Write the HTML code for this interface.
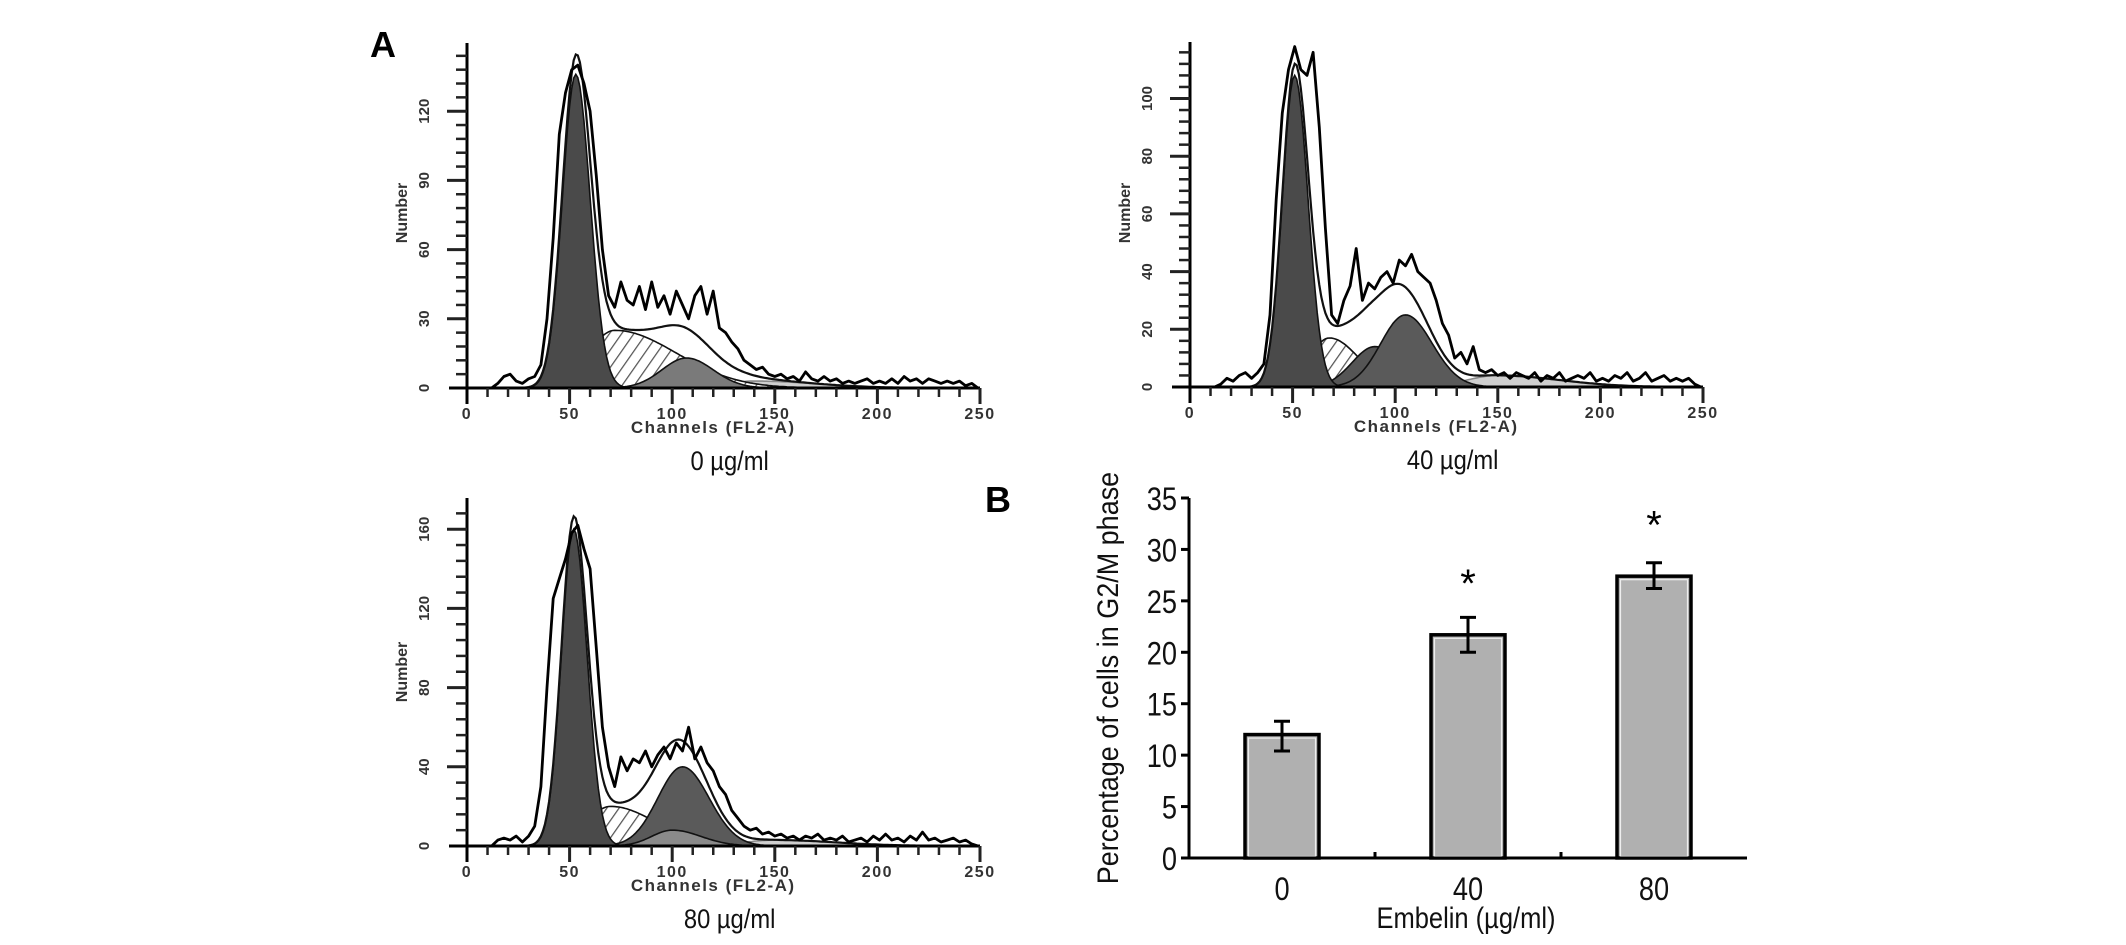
<!DOCTYPE html>
<html><head><meta charset="utf-8">
<style>
html,body{margin:0;padding:0;background:#fff;}
svg{display:block;}
text{font-family:"Liberation Sans",Arial,sans-serif;}
</style></head>
<body>
<svg id="fig" width="2126" height="945" viewBox="0 0 2126 945" xmlns="http://www.w3.org/2000/svg">
<defs>
<pattern id="hatch" patternUnits="userSpaceOnUse" width="10" height="10" patternTransform="rotate(35)">
<rect width="10" height="10" fill="#fff"/><line x1="0" y1="0" x2="0" y2="10" stroke="#555" stroke-width="2.5"/>
</pattern>
</defs>
<text x="370" y="57" font-family="Liberation Serif" font-weight="bold" font-size="36">A</text>
<text x="985" y="512" font-family="Liberation Serif" font-weight="bold" font-size="36">B</text>
<g id="h1"></g><g id="h2"></g><g id="h3"></g><g id="bar"></g>
</svg>
<script>
// ---------- histogram data (channels 12..249 step 3) ----------
const channelStart = 12, channelStep = 3;
const raw0 = [0,2,5,6,3,2,4,5,10,30, 65,110,128,138,140,132,120,92,60,40, 35,46,38,36,44,34,46,35,40,32, 42,36,30,40,44,32,42,26,24,20, 17,12,10,8,9,6,5,6,4,5, 3,7,4,3,5,3,4,2,3,2, 3,4,2,3,2,4,2,5,3,4, 2,4,3,2,3,2,3,1,2,0];
const raw40 = [0,1,3,2,4,5,3,5,8,25, 65,95,110,118,110,108,116,90,55,25, 22,30,35,48,30,36,34,38,40,36, 44,42,46,40,38,36,30,22,18,10, 12,8,14,6,5,6,4,5,3,5, 4,3,5,2,4,3,5,2,3,4, 3,5,2,3,2,4,3,5,2,3, 5,2,3,4,2,3,2,3,1,0];
const raw80 = [0,3,4,3,5,2,5,10,30,80, 125,135,145,158,162,150,140,100,60,40, 30,45,38,44,42,48,40,46,50,44, 52,48,60,44,50,42,38,30,26,18, 14,10,8,9,6,7,5,6,4,5, 3,5,4,6,3,4,3,5,2,3, 4,2,5,3,6,3,4,2,5,3, 7,3,4,2,3,4,2,3,1,0];
// fitted components: [mean, height, sdLeft, sdRight]
const g1_0 = [53,136,6.5,7], s_0 = [72,25,13,30], g2_0 = [107,13,12,13], tail_0 = [140,3,15,30];
const g1_40 = [51,108,6,6.5], s_40 = [68,17,10,14], m_40 = [90,14,11,16], g2_40 = [105,25,12,13], tail_40 = [150,4,15,30];
const g1_80 = [52,160,6,6.5], s_80 = [70,20,12,22], g2_80 = [105,40,12,13], l_80 = [100,8,10,14], tail_80 = [150,3,15,30];
const yTicks0 = [0,30,60,90,120], yTicks40 = [0,20,40,60,80,100], yTicks80 = [0,40,80,120,160];
const xTicks = [0,50,100,150,200,250];
// ---------- bar chart data ----------
const doses = ["0","40","80"];
const pct = [12.0,21.7,27.4];
const errHi = [13.3,23.4,28.7];
const errLo = [10.4,20.0,26.2];
const sig = [false,true,true];
const sigY = [0,27.5,33.2];
const barTicks = [0,5,10,15,20,25,30,35];

const NS="http://www.w3.org/2000/svg";
function mk(parent,tag,attrs){const e=document.createElementNS(NS,tag);for(const k in attrs)e.setAttribute(k,attrs[k]);parent.appendChild(e);return e;}
function comp(p,x){const sd=x<p[0]?p[2]:p[3];return p[1]*Math.exp(-0.5*Math.pow((x-p[0])/sd,2));}

function drawHist(gid,cfg){
  const g=document.getElementById(gid);
  const X=v=>cfg.x0+(v/250)*(cfg.x1-cfg.x0);
  const Y=v=>cfg.y0-v*cfg.ppu;
  const fills=cfg.comps;
  fills.forEach(c=>{
    let d="M"+X(10)+","+Y(0);
    for(let x=10;x<=240;x+=1){d+=" L"+X(x).toFixed(1)+","+Y(comp(c.p,x)).toFixed(1);}
    d+=" L"+X(240)+","+Y(0)+" Z";
    const e=mk(g,"path",{d:d,fill:c.fill,stroke:c.stroke||"#111","stroke-width":1.6});
    
    
  });
  let d="";
  for(let x=10;x<=245;x+=1){let s=0;fills.forEach(c=>s+=comp(c.p,x));d+=(d?" L":"M")+X(x).toFixed(1)+","+Y(s).toFixed(1);}
  const env=mk(g,"path",{d:d,fill:"none",stroke:"#111","stroke-width":2.2});
  
  
  let r="";
  cfg.raw.forEach((v,i)=>{const ch=channelStart+i*channelStep;r+=(r?" L":"M")+X(ch).toFixed(1)+","+Y(v).toFixed(1);});
  const rl=mk(g,"path",{d:r,fill:"none",stroke:"#000","stroke-width":2.8,"stroke-linejoin":"round"});
  
  
  const ax=mk(g,"line",{x1:cfg.x0,y1:cfg.top,x2:cfg.x0,y2:cfg.y0+16,stroke:"#000","stroke-width":3});
  
  
  const axx=mk(g,"line",{x1:cfg.x0-18,y1:cfg.y0,x2:cfg.x1,y2:cfg.y0,stroke:"#000","stroke-width":3});
  
  
  for(let v=cfg.minor;Y(v)>=cfg.top+4;v+=cfg.minor){
    const major=cfg.yTicks.indexOf(v)>=0;
    mk(g,"line",{x1:cfg.x0-(major?20:11),y1:Y(v),x2:cfg.x0,y2:Y(v),stroke:"#222","stroke-width":major?3:2.5});
  }
  cfg.yTicks.forEach(v=>{
    const t=mk(g,"text",{x:0,y:0,transform:`translate(${cfg.x0-38},${Y(v)}) rotate(-90)`,"text-anchor":"middle","font-size":15,fill:"#333","font-weight":"bold"});
    t.textContent=v;
    
    
  });
  for(let v=10;v<=250;v+=10){
    const major=v%50===0;
    mk(g,"line",{x1:X(v),y1:cfg.y0,x2:X(v),y2:cfg.y0+(major?16:9),stroke:"#222","stroke-width":major?3:2.5});
  }
  xTicks.forEach(v=>{
    const t=mk(g,"text",{x:X(v),y:cfg.y0+31,"text-anchor":"middle","font-size":16,fill:"#333","letter-spacing":"1.5","font-weight":"bold"});
    t.textContent=v;
    
    
  });
  const xt=mk(g,"text",{x:X(120),y:cfg.y0+45,"text-anchor":"middle","font-size":17,fill:"#333","letter-spacing":"1.5","font-weight":"bold"});
  xt.textContent="Channels (FL2-A)";
  
  
  const yt=mk(g,"text",{x:0,y:0,transform:`translate(${cfg.x0-60},${cfg.nameY}) rotate(-90)`,"text-anchor":"middle","font-size":16,fill:"#333","font-weight":"bold"});
  yt.textContent="Number";
  
  
  const tt=mk(g,"text",{x:X(128),y:cfg.y0+82,"text-anchor":"middle","font-size":27,fill:"#111",transform:`translate(${X(128)*0.12},0) scale(0.88,1)`});
  tt.textContent=cfg.title;
  
  
}

drawHist("h1",{x0:467,x1:980,y0:388,top:43,ppu:69.2/30,minor:6,yTicks:yTicks0,raw:raw0,nameY:213,title:"0 µg/ml",
  comps:[{p:tail_0,fill:"#cfcfcf",name:"aggregate-component",stroke:"#888"},{p:s_0,fill:"url(#hatch)",name:"s-phase-component"},{p:g2_0,fill:"#7a7a7a",name:"g2m-component"},{p:g1_0,fill:"#4a4a4a",name:"g1-component"}]});
drawHist("h2",{x0:1190,x1:1703,y0:387,top:42,ppu:57.7/20,minor:4,yTicks:yTicks40,raw:raw40,nameY:213,title:"40 µg/ml",
  comps:[{p:tail_40,fill:"#cfcfcf",name:"aggregate-component",stroke:"#888"},{p:s_40,fill:"url(#hatch)",name:"s-phase-component"},{p:m_40,fill:"#555",name:"s-phase-component-2"},{p:g2_40,fill:"#5a5a5a",name:"g2m-component"},{p:g1_40,fill:"#4a4a4a",name:"g1-component"}]});
drawHist("h3",{x0:467,x1:980,y0:846,top:498,ppu:79.2/40,minor:8,yTicks:yTicks80,raw:raw80,nameY:672,title:"80 µg/ml",
  comps:[{p:tail_80,fill:"#cfcfcf",name:"aggregate-component",stroke:"#888"},{p:s_80,fill:"url(#hatch)",name:"s-phase-component"},{p:g2_80,fill:"#5a5a5a",name:"g2m-component"},{p:l_80,fill:"#8a8a8a",name:"light-component"},{p:g1_80,fill:"#4a4a4a",name:"g1-component"}]});

// ---------- bar chart ----------
(function(){
  const g=document.getElementById("bar");
  const ax0=1189, ay0=858, ppu=(858-498)/35, band=186, bw=74;
  const Y=v=>ay0-v*ppu;
  const CX=i=>ax0+band*i+band/2;
  pct.forEach((v,i)=>{
    const r=mk(g,"rect",{x:CX(i)-bw/2,y:Y(v),width:bw,height:ay0-Y(v),fill:"#b0b0b0",stroke:"#000","stroke-width":3.5});
    
    
    mk(g,"rect",{x:CX(i)-bw/2+3.5,y:Y(v)+3.5,width:bw-7,height:ay0-Y(v)-5,fill:"none",stroke:"#eee","stroke-width":1.2});
    const eb=mk(g,"path",{d:`M${CX(i)-8},${Y(errHi[i])} H${CX(i)+8} M${CX(i)},${Y(errHi[i])} V${Y(errLo[i])} M${CX(i)-8},${Y(errLo[i])} H${CX(i)+8}`,stroke:"#000","stroke-width":3,fill:"none"});
    
    
    if(sig[i]){
      const s=mk(g,"text",{x:CX(i),y:Y(sigY[i])+22,"text-anchor":"middle","font-size":40,fill:"#000"});
      s.textContent="*";
      
      
    }
    const t=mk(g,"text",{x:0,y:0,transform:`translate(${CX(i)},${ay0+42}) scale(0.85,1)`,"text-anchor":"middle","font-size":32,fill:"#111"});
    t.textContent=doses[i];
    
    
  });
  const ya=mk(g,"line",{x1:ax0,y1:498,x2:ax0,y2:ay0,stroke:"#000","stroke-width":3});
  
  
  const xa=mk(g,"line",{x1:ax0-8,y1:ay0,x2:ax0+band*3,y2:ay0,stroke:"#000","stroke-width":3});
  
  
  [1,2].forEach(i=>mk(g,"line",{x1:ax0+band*i,y1:ay0,x2:ax0+band*i,y2:ay0-6,stroke:"#000","stroke-width":3}));
  barTicks.forEach(v=>{
    mk(g,"line",{x1:ax0-8,y1:Y(v),x2:ax0,y2:Y(v),stroke:"#000","stroke-width":3});
    const t=mk(g,"text",{x:0,y:0,transform:`translate(${ax0-12},${Y(v)+12}) scale(0.85,1)`,"text-anchor":"end","font-size":32,fill:"#111"});
    t.textContent=v;
    
    
  });
  const yt=mk(g,"text",{x:0,y:0,transform:`translate(1118,678) rotate(-90) scale(0.9,1)`,"text-anchor":"middle","font-size":30,fill:"#111"});
  yt.textContent="Percentage of cells in G2/M phase";
  
  
  const xt=mk(g,"text",{x:0,y:0,transform:`translate(1466,928) scale(0.85,1)`,"text-anchor":"middle","font-size":30,fill:"#111"});
  xt.textContent="Embelin (µg/ml)";
  
  
})();
</script>
</body></html>
